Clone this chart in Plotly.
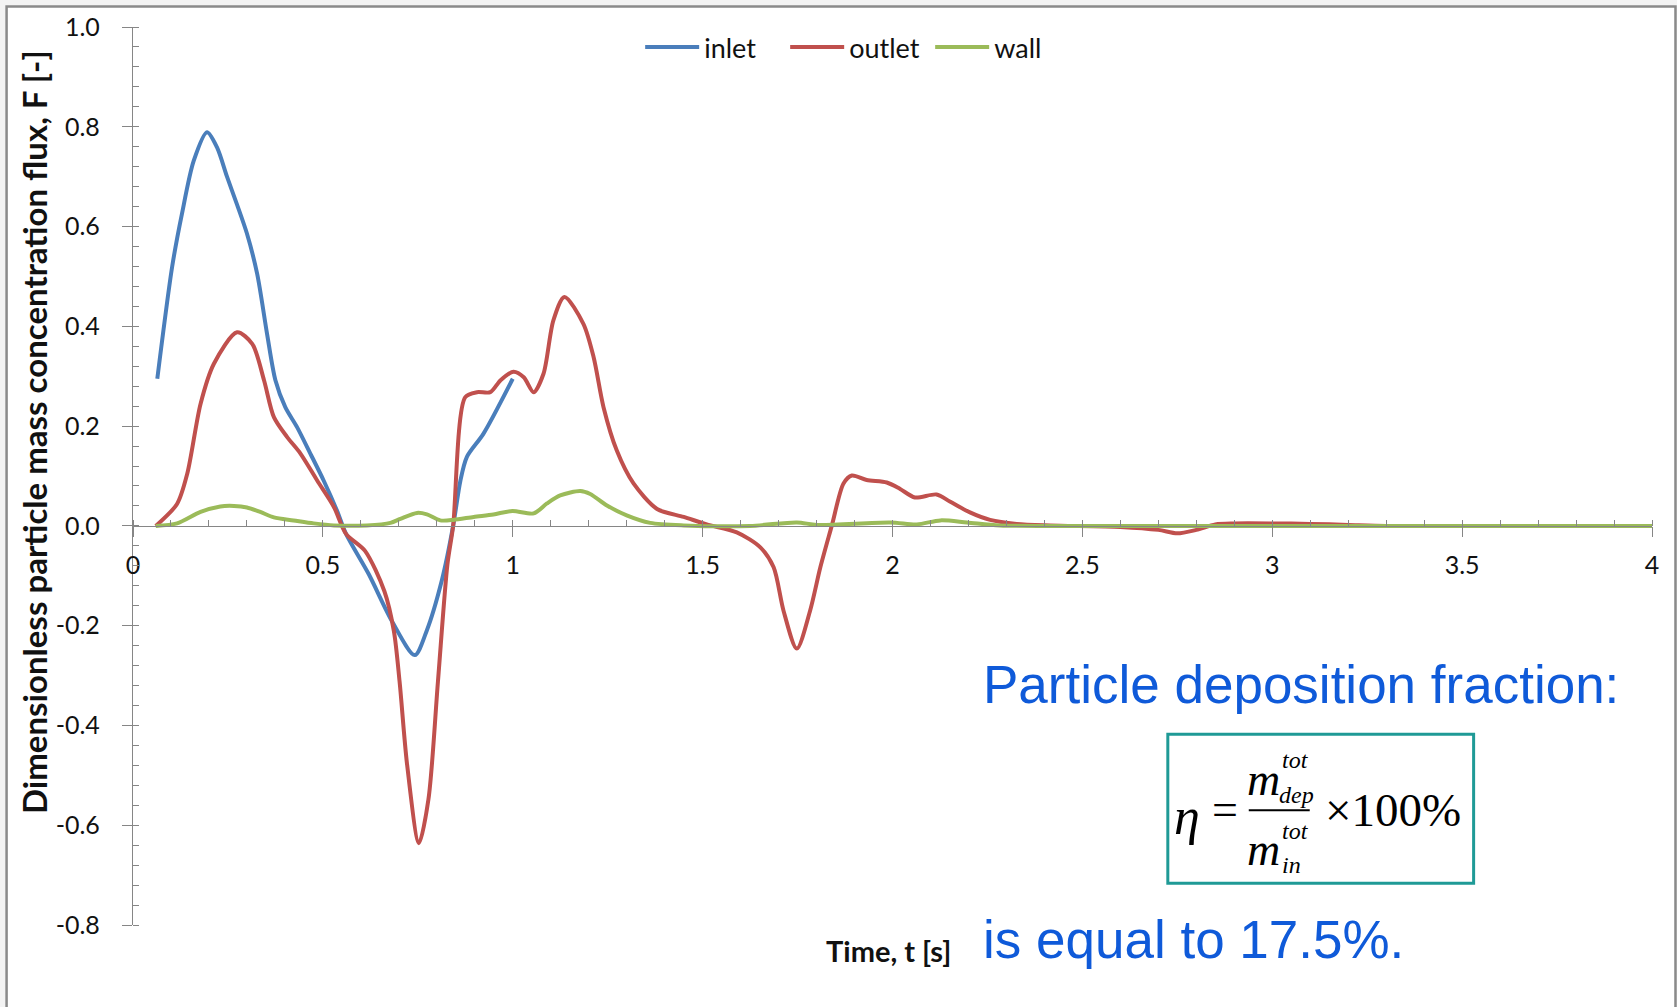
import plotly.graph_objects as go

# ---------------- data ----------------
inlet_t = [0.064, 0.103, 0.129, 0.16, 0.195, 0.221, 0.248, 0.274, 0.30, 0.327, 0.353, 0.375,
           0.401, 0.432, 0.467, 0.502, 0.537, 0.561, 0.621, 0.682, 0.742, 0.773, 0.813,
           0.843, 0.862, 0.879, 0.923, 1.0]
inlet_f = [0.295, 0.519, 0.626, 0.732, 0.789, 0.759, 0.699, 0.644, 0.586, 0.505, 0.385, 0.292,
           0.238, 0.198, 0.145, 0.091, 0.031, -0.016, -0.097, -0.191, -0.259, -0.211, -0.11,
           0.0, 0.09, 0.138, 0.185, 0.295]

outlet_t = [0.06, 0.116, 0.143, 0.178, 0.213, 0.274, 0.314, 0.345, 0.371, 0.406, 0.441, 0.485,
            0.529, 0.561, 0.611, 0.662, 0.687, 0.702, 0.722, 0.753, 0.778, 0.803, 0.828, 0.843,
            0.875, 0.906, 0.941, 0.968, 1.002, 1.029, 1.055, 1.081, 1.107, 1.136, 1.186,
            1.213, 1.239, 1.274, 1.318, 1.38, 1.45, 1.511, 1.59, 1.652, 1.687, 1.713, 1.748,
            1.783, 1.81, 1.84, 1.871, 1.893, 1.932, 1.985, 2.02, 2.059, 2.116, 2.151, 2.204,
            2.257, 2.327, 2.415, 2.6, 2.7, 2.75, 2.8, 2.85, 2.9, 3.0, 3.1, 3.2, 3.3, 3.5, 4.0]
outlet_f = [0.0, 0.044, 0.105, 0.245, 0.325, 0.388, 0.365, 0.292, 0.218, 0.178, 0.145, 0.091,
            0.038, -0.016, -0.05, -0.131, -0.211, -0.312, -0.48, -0.636, -0.548, -0.312, -0.077, 0.0,
            0.258, 0.268, 0.268, 0.292, 0.309, 0.298, 0.268, 0.305, 0.412, 0.459, 0.405,
            0.338, 0.238, 0.151, 0.085, 0.034, 0.018, 0.003, -0.013, -0.043, -0.083, -0.17, -0.246,
            -0.17, -0.083, 0.0, 0.085, 0.101, 0.092, 0.087, 0.074, 0.057, 0.063, 0.049, 0.027,
            0.012, 0.004, 0.001, -0.002, -0.008, -0.015, -0.008, 0.003, 0.005, 0.005, 0.004, 0.002,
            0.0, 0.0, 0.0]

wall_t = [0.06, 0.116, 0.178, 0.23, 0.266, 0.30, 0.335, 0.371, 0.423, 0.476, 0.529, 0.616,
          0.678, 0.704, 0.748, 0.774, 0.809, 0.844, 0.897, 0.949, 0.999, 1.055, 1.09, 1.125,
          1.178, 1.204, 1.248, 1.30, 1.362, 1.45, 1.625, 1.748, 1.801, 1.994, 2.064, 2.126,
          2.196, 2.283, 2.5, 3.0, 3.5, 4.0]
wall_f = [0.0, 0.005, 0.028, 0.039, 0.04, 0.037, 0.028, 0.017, 0.011, 0.005, 0.001, 0.001,
          0.006, 0.014, 0.026, 0.023, 0.011, 0.012, 0.018, 0.023, 0.03, 0.025, 0.045, 0.061,
          0.07, 0.064, 0.041, 0.021, 0.006, 0.001, 0.0, 0.007, 0.002, 0.007, 0.003, 0.011,
          0.007, 0.001, 0.0, 0.0, 0.0, 0.0]

series_names = ["inlet", "outlet", "wall"]
series_colors = ["#4A7EBB", "#C0504D", "#9BBB59"]

x_tick_vals = [0, 0.5, 1, 1.5, 2, 2.5, 3, 3.5, 4]
x_tick_text = ["0", "0.5", "1", "1.5", "2", "2.5", "3", "3.5", "4"]
y_tick_vals = [1.0, 0.8, 0.6, 0.4, 0.2, 0.0, -0.2, -0.4, -0.6, -0.8]
y_tick_text = ["1.0", "0.8", "0.6", "0.4", "0.2", "0.0", "-0.2", "-0.4", "-0.6", "-0.8"]

# ---------------- layout geometry (pixels) ----------------
W, H = 1677, 1007
L, R, T, B = 132.5, 24.5, 26.5, 82.3
PW, PH = W - L - R, H - T - B


def px(X):
    return (X - L) / PW


def py(Y):
    return (H - B - Y) / PH


FONT = "Lato, 'Open Sans', sans-serif"
TICK_FONT = dict(family=FONT, size=25, color="#111111")
AXIS_GRAY = "#868686"

fig = go.Figure()
for name, color, xs, ys in zip(series_names, series_colors,
                               [inlet_t, outlet_t, wall_t], [inlet_f, outlet_f, wall_f]):
    fig.add_trace(go.Scatter(x=xs, y=ys, mode="lines", name=name,
                             line=dict(color=color, width=4, shape="spline", smoothing=0.8)))

fig.update_layout(
    width=W, height=H,
    margin=dict(l=L, r=R, t=T, b=B, pad=0),
    paper_bgcolor="#f3f3f3",
    plot_bgcolor="rgba(0,0,0,0)",
    showlegend=True,
    legend=dict(orientation="h", x=px(640), xanchor="left", y=py(47), yanchor="middle",
                font=dict(family=FONT, size=27, color="#111111"),
                bgcolor="rgba(0,0,0,0)", itemwidth=54, entrywidth=76,
                entrywidthmode="pixels", tracegroupgap=0),
    xaxis=dict(range=[0, 4], anchor="free", position=(0 - (-0.8)) / 1.8,
               showline=True, linecolor=AXIS_GRAY, linewidth=1.3,
               tickvals=x_tick_vals, ticktext=x_tick_text,
               ticks="outside", ticklen=10, tickcolor=AXIS_GRAY, tickwidth=1.3,
               ticklabelstandoff=7,
               minor=dict(dtick=0.1, tick0=0, ticks="inside", ticklen=6, tickcolor=AXIS_GRAY,
                          tickwidth=1.2, showgrid=False),
               showgrid=False, zeroline=False, tickfont=TICK_FONT),
    yaxis=dict(range=[-0.8, 1.0],
               showline=True, linecolor=AXIS_GRAY, linewidth=1.3,
               tickvals=y_tick_vals, ticktext=y_tick_text,
               ticks="outside", ticklen=10, tickcolor=AXIS_GRAY, tickwidth=1.3,
               ticklabelstandoff=17,
               minor=dict(dtick=0.04, tick0=0, ticks="inside", ticklen=6, tickcolor=AXIS_GRAY,
                          tickwidth=1.2, showgrid=False),
               showgrid=False, zeroline=False, tickfont=TICK_FONT),
)

# outer chart frame
fig.add_shape(type="rect", xref="paper", yref="paper", layer="below",
              x0=px(6), x1=px(1676), y0=py(1030), y1=py(6),
              line=dict(color="#8a8a8a", width=2.5), fillcolor="white")

# axis titles
fig.add_annotation(xref="paper", yref="paper", x=px(34), y=py(432), textangle=-90,
                   text="<b>Dimensionless particle mass concentration flux, F [-]</b>",
                   showarrow=False, xanchor="center", yanchor="middle",
                   font=dict(family=FONT, size=33, color="#111111"))
fig.add_annotation(xref="paper", yref="paper", x=px(888), y=py(950),
                   text="<b>Time, t [s]</b>", showarrow=False, xanchor="center", yanchor="middle",
                   font=dict(family=FONT, size=29, color="#111111"))

BLUE = "#0F5AD9"
SANS = "'Liberation Sans', Arial, sans-serif"
fig.add_annotation(xref="paper", yref="paper", x=px(981), y=py(684),
                   text="Particle deposition fraction:", showarrow=False,
                   xanchor="left", yanchor="middle", font=dict(family=SANS, size=53, color=BLUE))
fig.add_annotation(xref="paper", yref="paper", x=px(981), y=py(939),
                   text="is equal to 17.5%.", showarrow=False,
                   xanchor="left", yanchor="middle", font=dict(family=SANS, size=53, color=BLUE))

# formula box
fig.add_shape(type="rect", xref="paper", yref="paper",
              x0=px(1168), x1=px(1474), y0=py(883), y1=py(734),
              line=dict(color="#1F9A96", width=3), fillcolor="rgba(0,0,0,0)")
fig.add_shape(type="line", xref="paper", yref="paper",
              x0=px(1249), x1=px(1310), y0=py(810), y1=py(810),
              line=dict(color="black", width=2))

SERIF = "'Liberation Serif', 'Times New Roman', serif"
formula_parts = [
    ("<i>η</i>", 1187, 816, 52),
    ("=", 1225, 809, 46),
    ("<i>m</i>", 1264, 779, 46),
    ("<i>tot</i>", 1296, 760, 24),
    ("<i>dep</i>", 1297, 795, 24),
    ("<i>m</i>", 1264, 849, 46),
    ("<i>tot</i>", 1296, 831, 24),
    ("<i>in</i>", 1292, 865, 24),
    ("×100%", 1393, 810, 47),
]
for txt, X, Y, s in formula_parts:
    fig.add_annotation(xref="paper", yref="paper", x=px(X), y=py(Y), text=txt,
                       showarrow=False, xanchor="center", yanchor="middle",
                       font=dict(family=SERIF, size=s, color="black"))

fig.write_html("out.html")
